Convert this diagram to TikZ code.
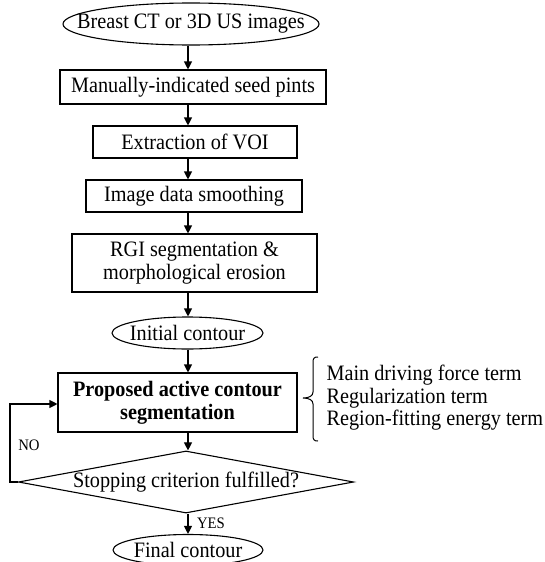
\documentclass[tikz,border=0pt]{standalone}
\usepackage{fontspec}
\setmainfont{Liberation Serif}[FakeStretch=0.92]
\usetikzlibrary{shapes.geometric,arrows.meta}
\begin{document}
\begin{tikzpicture}[x=1pt,y=-1pt,
  line width=1.1pt,
  every node/.style={font=\fontsize{22}{22.5}\selectfont},
  stepbox/.style={draw, rectangle, inner sep=0pt, align=center},
  oval/.style={draw, ellipse, inner sep=0pt},
  decision/.style={draw, diamond, inner sep=0pt, aspect=5.4},
  arr/.style={-{Triangle[length=8pt,width=8pt]}},
  small/.style={font=\fontsize{16}{17}\selectfont, inner sep=0pt}
]
\useasboundingbox (0,0) rectangle (544,562);

% main column
\node[oval, minimum width=256pt, minimum height=42pt,
      label=center:{Breast CT or 3D US images}] (e1) at (191,24) {};
\node[stepbox, minimum width=266pt, minimum height=34pt] (b2) at (193,87) {Manually-indicated seed pints};
\node[stepbox, minimum width=204pt, minimum height=32pt] (b3) at (195,142) {Extraction of VOI};
\node[stepbox, minimum width=216pt, minimum height=32pt] (b4) at (194,196) {Image data smoothing};
\node[stepbox, minimum width=245pt, minimum height=58pt] (b5) at (194.5,263) {RGI segmentation \&\\morphological erosion};
\node[oval, minimum width=151pt, minimum height=32pt,
      label=center:{Initial contour}] (e2) at (187.5,333) {};
\node[stepbox, minimum width=239pt, minimum height=59pt, font=\fontsize{22}{23}\selectfont\bfseries] (b6) at (177.5,402.5) {Proposed active contour\\segmentation};
\node[decision, minimum width=324pt, minimum height=60pt] (d) at (186,482) {Stopping criterion fulfilled?};
\node[oval, minimum width=150pt, minimum height=31pt,
      label=center:{Final contour}] (e3) at (188,550) {};

% energy terms beside the active contour step
\node[anchor=west, align=left, inner sep=0pt] (terms) at (326,398)
  {Main driving force term\\Regularization term\\Region-fitting energy term};
\draw[line width=1pt] (318,357) .. controls (314,357) and (313,358) .. (313,363)
  -- (313,392) .. controls (313,396) and (309,398) .. (303,398)
  .. controls (309,398) and (313,400) .. (313,404)
  -- (313,435) .. controls (313,440) and (314,441) .. (318,441);

% flow arrows
\coordinate (ax) at (188,0);
\draw[arr] (e1.south -| ax) -- (b2.north -| ax);
\draw[arr] (b2.south -| ax) -- (b3.north -| ax);
\draw[arr] (b3.south -| ax) -- (b4.north -| ax);
\draw[arr] (b4.south -| ax) -- (b5.north -| ax);
\draw[arr] (b5.south -| ax) -- (e2.north -| ax);
\draw[arr] (e2.south -| ax) -- (b6.north -| ax);
\draw[arr] (b6.south -| ax) -- (d.north -| ax);
\draw[arr] (d.south -| ax) -- (e3.north -| ax);

% loop back when the criterion is not met
\coordinate (fb) at (10,404);
\draw[arr] (d.west) -| (fb) -- (fb -| b6.west);

\node[small] (no) at (29,445) {NO};
\node[small] (yes) at (211,523) {YES};
\end{tikzpicture}
\end{document}
